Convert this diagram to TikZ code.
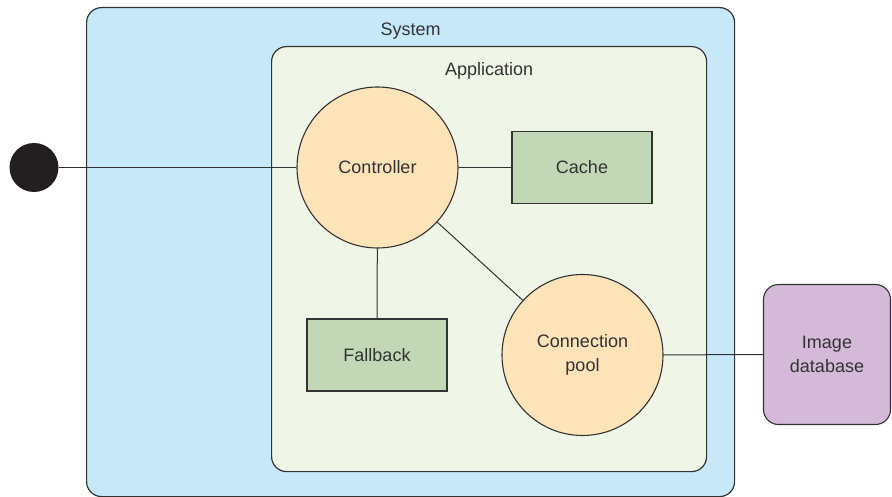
\documentclass[tikz,border=0pt]{standalone}
\usepackage{fontspec}
\setmainfont{Liberation Sans}
\usetikzlibrary{positioning}

\definecolor{sysblue}{HTML}{C6E8F9}
\definecolor{appgreen}{HTML}{EFF6E7}
\definecolor{compfill}{HTML}{FFE3B9}
\definecolor{storegreen}{HTML}{C1D7B5}
\definecolor{dbpurple}{HTML}{D4B9D9}
\definecolor{inkgray}{HTML}{333333}
\definecolor{dotblack}{HTML}{231F20}

\begin{document}
\begin{tikzpicture}[x=1pt, y=-1pt,
    every node/.style={font=\fontsize{18}{21}\selectfont, text=inkgray},
    container/.style={rectangle, rounded corners=15pt, draw=inkgray, line width=1.2pt, anchor=north west},
    title/.style={inner sep=0pt},
    component/.style={circle, minimum size=161pt, inner sep=0pt, align=center, draw=inkgray, line width=1.1pt, fill=compfill},
    store/.style={rectangle, minimum width=140pt, minimum height=72pt, draw=inkgray, line width=1.1pt, fill=storegreen},
    link/.style={draw=inkgray, line width=1pt},
]
\useasboundingbox (0,0) rectangle (892,497);

% Nested boundaries
\node[container, fill=sysblue, minimum width=648pt, minimum height=489pt] (system) at (86,7) {};
\node[title, below=15.5pt of system.north] (systitle) {System};
\node[container, fill=appgreen, minimum width=435pt, minimum height=425pt] (app) at (271,46) {};
\node[title, below=16.5pt of app.north] (apptitle) {Application};

% Entry point
\node[circle, fill=dotblack, minimum size=49pt, inner sep=0pt] (entry) at (34,167.5) {};

% Components inside the application
\node[component] (controller) at (377.5,167.5) {Controller};
\node[store] (cache) at (582,167.5) {Cache};
\node[store] (fallback) at (377,355) {Fallback};
\node[component] (pool) at (582.5,355) {Connection\\[3pt]pool};

% External store
\node[rectangle, rounded corners=15pt, draw=inkgray, line width=1.1pt, fill=dbpurple,
      minimum width=127pt, minimum height=140pt, align=center] (imagedb) at (827,354.5) {Image\\[3pt]database};

% Connections
\draw[link] (entry) -- (controller);
\draw[link] (controller) -- (cache);
\draw[link] (controller) -- (fallback);
\draw[link] (controller) -- (pool);
\draw[link] (pool) -- (imagedb);

\end{tikzpicture}
\end{document}
